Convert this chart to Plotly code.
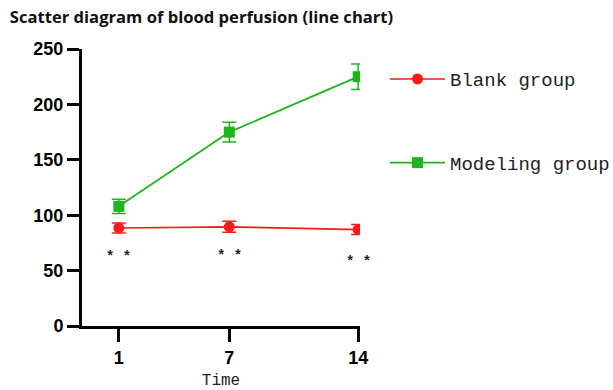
import plotly.graph_objects as go

time_points = [1, 7, 14]
blank_mean = [88.5, 89.5, 87.0]
blank_err = [4.5, 5.0, 4.5]
model_mean = [108.0, 175.0, 225.0]
model_err = [6.5, 9.0, 11.5]
sig_labels = ["* *", "* *", "* *"]
sig_y = [62, 63, 58]
y_ticks = [0, 50, 100, 150, 200, 250]

RED = "#FF1A1A"
GREEN = "#1DB51D"

fig = go.Figure()
fig.add_trace(go.Scatter(
    x=time_points, y=blank_mean, name="Blank group", mode="lines+markers",
    line=dict(color=RED, width=1.6),
    marker=dict(symbol="circle", size=11, color=RED),
    error_y=dict(type="data", array=blank_err, color=RED, thickness=1.5, width=7),
    legendgroup="a",
))
fig.add_trace(go.Scatter(
    x=time_points, y=model_mean, name="Modeling group", mode="lines+markers",
    line=dict(color=GREEN, width=1.8),
    marker=dict(symbol="square", size=11, color=GREEN),
    error_y=dict(type="data", array=model_err, color=GREEN, thickness=1.5, width=7),
    legendgroup="b",
))

for x, y, t in zip(time_points, sig_y, sig_labels):
    fig.add_annotation(x=x, y=y, text=t, showarrow=False,
                       font=dict(family="Liberation Mono", size=14, color="#222222", weight="bold"))

fig.update_layout(
    width=613, height=390,
    margin=dict(l=82, r=253, t=49, b=64, autoexpand=False),
    paper_bgcolor="white", plot_bgcolor="white",
    title=dict(text="<b>Scatter diagram of blood perfusion (line chart)</b>",
               x=0.016, xanchor="left", y=0.955, yanchor="middle",
               font=dict(family="Open Sans", size=16.6, color="#111111")),
    showlegend=True,
    legend=dict(x=1.09, xanchor="left", y=0.96, yanchor="top",
                tracegroupgap=56, itemwidth=55,
                font=dict(family="Liberation Mono", size=19, color="#222222"),
                bgcolor="rgba(0,0,0,0)"),
    xaxis=dict(range=[-1, 14.1], tickvals=time_points, ticktext=[str(t) for t in time_points],
               automargin=False,
               showgrid=False, zeroline=False, showline=True, linecolor="black", linewidth=3,
               ticks="outside", ticklen=13, tickwidth=3, tickcolor="black", ticklabelstandoff=0,
               tickfont=dict(family="Liberation Sans", size=18, color="black", weight="bold"),
               title=dict(text="Time", standoff=16,
                          font=dict(family="Liberation Mono", size=16, color="#222222"))),
    yaxis=dict(range=[0, 250], tickvals=y_ticks, automargin=False,
               showgrid=False, zeroline=False, showline=True, linecolor="black", linewidth=3,
               ticks="outside", ticklen=12, tickwidth=3, tickcolor="black",
               tickfont=dict(family="Liberation Sans", size=18, color="black", weight="bold")),
)

fig.write_html("out.html", config={"displayModeBar": False},
               post_script="document.body.style.margin='0';")
